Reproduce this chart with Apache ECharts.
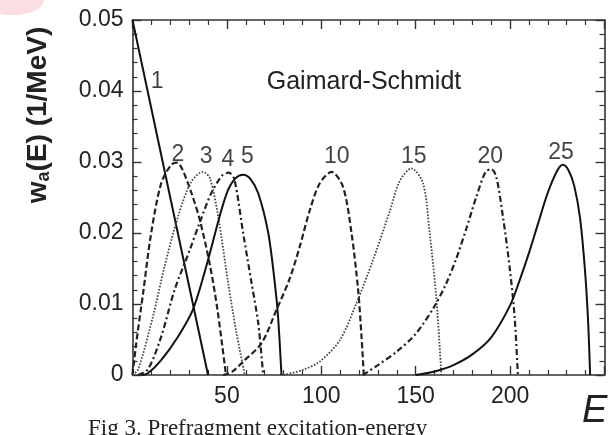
<!DOCTYPE html>
<html>
<head>
<meta charset="utf-8">
<script src="https://cdn.jsdelivr.net/npm/echarts@6/dist/echarts.min.js"></script>
<style>
html,body{margin:0;padding:0;background:#fff;}
#c{width:608px;height:435px;}
</style>
</head>
<body>
<div id="c"></div>
<script>
// ---- data ----
var xTicks = [50, 100, 150, 200];
var yTicks = [0, 0.01, 0.02, 0.03, 0.04, 0.05];
var curveNames = ['1', '2', '3', '4', '5', '10', '15', '20', '25'];

var w1 = [[0, 0.05], [40, 0]];
var w2 = [[0, 0], [2, 0.0045], [5.6, 0.0115], [9.9, 0.020], [15.2, 0.027], [20.5, 0.0296], [23.5, 0.0299], [26, 0.0292], [31, 0.0258], [35.7, 0.0218], [41, 0.0155], [45, 0.0092], [49.5, 0]];
var w3 = [[0, 0], [3, 0.0008], [10.8, 0.0082], [17, 0.0153], [24.1, 0.0223], [31.1, 0.0272], [37.3, 0.0286], [41, 0.0277], [45.4, 0.0223], [50.7, 0.0129], [55.1, 0.0059], [59.5, 0]];
var w4 = [[3, 0], [8.2, 0.0008], [15.2, 0.0054], [22.3, 0.012], [30.3, 0.0176], [35.5, 0.0214], [41.7, 0.0256], [47.5, 0.0281], [51, 0.0285], [54, 0.0275], [58.6, 0.020], [63.1, 0.0129], [66.6, 0.0073], [69.2, 0]];
var w5 = [[5, 0], [8, 0.0002], [15.2, 0.0021], [24.1, 0.0054], [32, 0.0092], [40, 0.0162], [46.1, 0.0223], [50.5, 0.026], [54.5, 0.0277], [58.6, 0.0282], [62.5, 0.0276], [66.6, 0.0256], [71.9, 0.020], [75.4, 0.0129], [77.1, 0.0082], [78.9, 0]];
var w10 = [[48, 0], [53, 0.0005], [58.6, 0.0019], [68.4, 0.0045], [76.3, 0.0092], [83.3, 0.0136], [88.6, 0.0181], [93.9, 0.0232], [99.2, 0.027], [105.4, 0.0286], [111.5, 0.0265], [116, 0.020], [119.5, 0.012], [121.3, 0.0054], [122.5, 0]];
var w15 = [[80, 0], [90, 0.0007], [99.2, 0.0019], [109.8, 0.0049], [118.6, 0.0101], [127.4, 0.0162], [136.2, 0.023], [141.5, 0.0273], [147.7, 0.0291], [153.9, 0.027], [157.4, 0.020], [161, 0.0106], [163.6, 0]];
var w20 = [[122, 0], [130, 0.0014], [140, 0.0033], [150, 0.0058], [160, 0.0097], [166, 0.0128], [171.5, 0.0164], [176.8, 0.0206], [182, 0.025], [187, 0.0286], [190, 0.029], [192.7, 0.0279], [196.2, 0.0223], [199.7, 0.0153], [202.4, 0.0082], [204.1, 0]];
var w25 = [[150, 0], [160, 0.0005], [170, 0.0014], [180, 0.0029], [190, 0.0053], [200, 0.0098], [205, 0.0133], [210, 0.0172], [215, 0.0215], [220, 0.0257], [225, 0.0288], [228, 0.0296], [231, 0.0288], [234, 0.0266], [237, 0.0222], [239.5, 0.0153], [241.2, 0.0082], [242.4, 0]];
// label anchors (data units) for the curve numbers
var labelAnchors = [[13, 0.0413], [24, 0.0311], [39, 0.0307], [50.5, 0.0304], [60.8, 0.0307], [108.2, 0.0308], [149, 0.0308], [189.5, 0.0308], [227, 0.0313]];

var curves = [w1, w2, w3, w4, w5, w10, w15, w20, w25];
var styles = ['solid', 'dashed', 'dotted', 'dashdot', 'solid', 'dashed', 'dotted', 'dashdot', 'solid'];

function dashOf(s) {
  if (s === 'dashed') return { type: [6, 3], width: 2.2, color: '#222' };
  if (s === 'dotted') return { type: [1.6, 1.6], width: 1.8, color: '#444' };
  if (s === 'dashdot') return { type: [6, 3, 2, 3], width: 2.2, color: '#222' };
  return { type: 'solid', width: 2, color: '#111' };
}

var font = 'Liberation Sans, Arial, Helvetica, sans-serif';
var axisCol = '#333';

function xAx(pos, showLabel) {
  return {
    type: 'value', min: 0, max: 250, interval: 50, position: pos,
    axisLine: { show: true, onZero: false, lineStyle: { color: axisCol, width: 1.6 } },
    axisTick: { show: true, inside: true, length: 9, lineStyle: { color: axisCol, width: 1.4 } },
    minorTick: { show: true, splitNumber: 5, length: 5, lineStyle: { color: axisCol, width: 1.2 } },
    splitLine: { show: false },
    axisLabel: {
      show: showLabel, fontSize: 23, color: '#222', fontFamily: font, margin: 10,
      formatter: function (v) { return xTicks.indexOf(v) >= 0 ? String(v) : ''; }
    }
  };
}
function yAx(pos, showLabel) {
  return {
    type: 'value', min: 0, max: 0.05, interval: 0.01, position: pos,
    axisLine: { show: true, onZero: false, lineStyle: { color: axisCol, width: 1.6 } },
    axisTick: { show: true, inside: true, length: 9, lineStyle: { color: axisCol, width: 1.4 } },
    minorTick: { show: true, splitNumber: 5, length: 5, lineStyle: { color: axisCol, width: 1.2 } },
    splitLine: { show: false },
    axisLabel: {
      show: showLabel, fontSize: 23, color: '#222', fontFamily: font, margin: 9,
      formatter: function (v) {
        for (var i = 0; i < yTicks.length; i++) {
          if (Math.abs(yTicks[i] - v) < 1e-9) return yTicks[i] === 0 ? '0' : yTicks[i].toFixed(2);
        }
        return '';
      }
    }
  };
}

var series = curves.map(function (d, i) {
  return {
    type: 'line', name: curveNames[i], data: d, showSymbol: false, symbol: 'none',
    smooth: i === 0 ? false : 0.3, lineStyle: dashOf(styles[i]), z: 3, animation: false
  };
});
series.push({
  type: 'scatter', name: 'labels', symbolSize: 0, animation: false, silent: true,
  data: labelAnchors.map(function (p, i) { return { value: [p[0], p[1]], name: curveNames[i] }; }),
  label: {
    show: true, position: 'inside', formatter: function (p) { return p.name; },
    fontSize: 23, color: '#111', fontFamily: font
  }
});

var chart = echarts.init(document.getElementById('c'), null, { renderer: 'canvas' });
chart.setOption({
  backgroundColor: '#fff',
  animation: false,
  grid: { left: 132.5, right: 3.5, top: 20, bottom: 60, containLabel: false },
  xAxis: [xAx('bottom', true), xAx('top', false)],
  yAxis: [yAx('left', true), yAx('right', false)],
  series: series,
  graphic: [
    { type: 'ellipse', shape: { cx: 12, cy: 0, rx: 32, ry: 15 }, style: { fill: '#fbdde2' }, z: -1 },
    {
      type: 'text', x: 364, y: 82, z: 10,
      style: { text: 'Gaimard-Schmidt', font: '25px ' + font, fill: '#222', textAlign: 'center', textVerticalAlign: 'middle' }
    },
    {
      type: 'text', x: 38, y: 115, rotation: Math.PI / 2, z: 10,
      style: {
        text: '{w|w}{s|a}{w|(E) (1/MeV)}', textAlign: 'center', textVerticalAlign: 'middle',
        rich: {
          w: { fontSize: 28, fontWeight: 'bold', fontFamily: font, fill: '#222' },
          s: { fontSize: 18, fontWeight: 'bold', fontFamily: font, fill: '#222', padding: [13, 0, 0, 0] }
        }
      }
    },
    {
      type: 'text', x: 582, y: 430, z: 10,
      style: { text: 'E', font: 'italic 38px ' + font, fill: '#222', textAlign: 'left', textVerticalAlign: 'bottom' }
    },
    {
      type: 'text', x: 88, y: 440, z: 10,
      style: { text: 'Fig 3. Prefragment excitation-energy', font: '23px Liberation Serif, Times New Roman, serif', fill: '#222', textAlign: 'left', textVerticalAlign: 'bottom' }
    }
  ]
});
</script>
</body>
</html>
